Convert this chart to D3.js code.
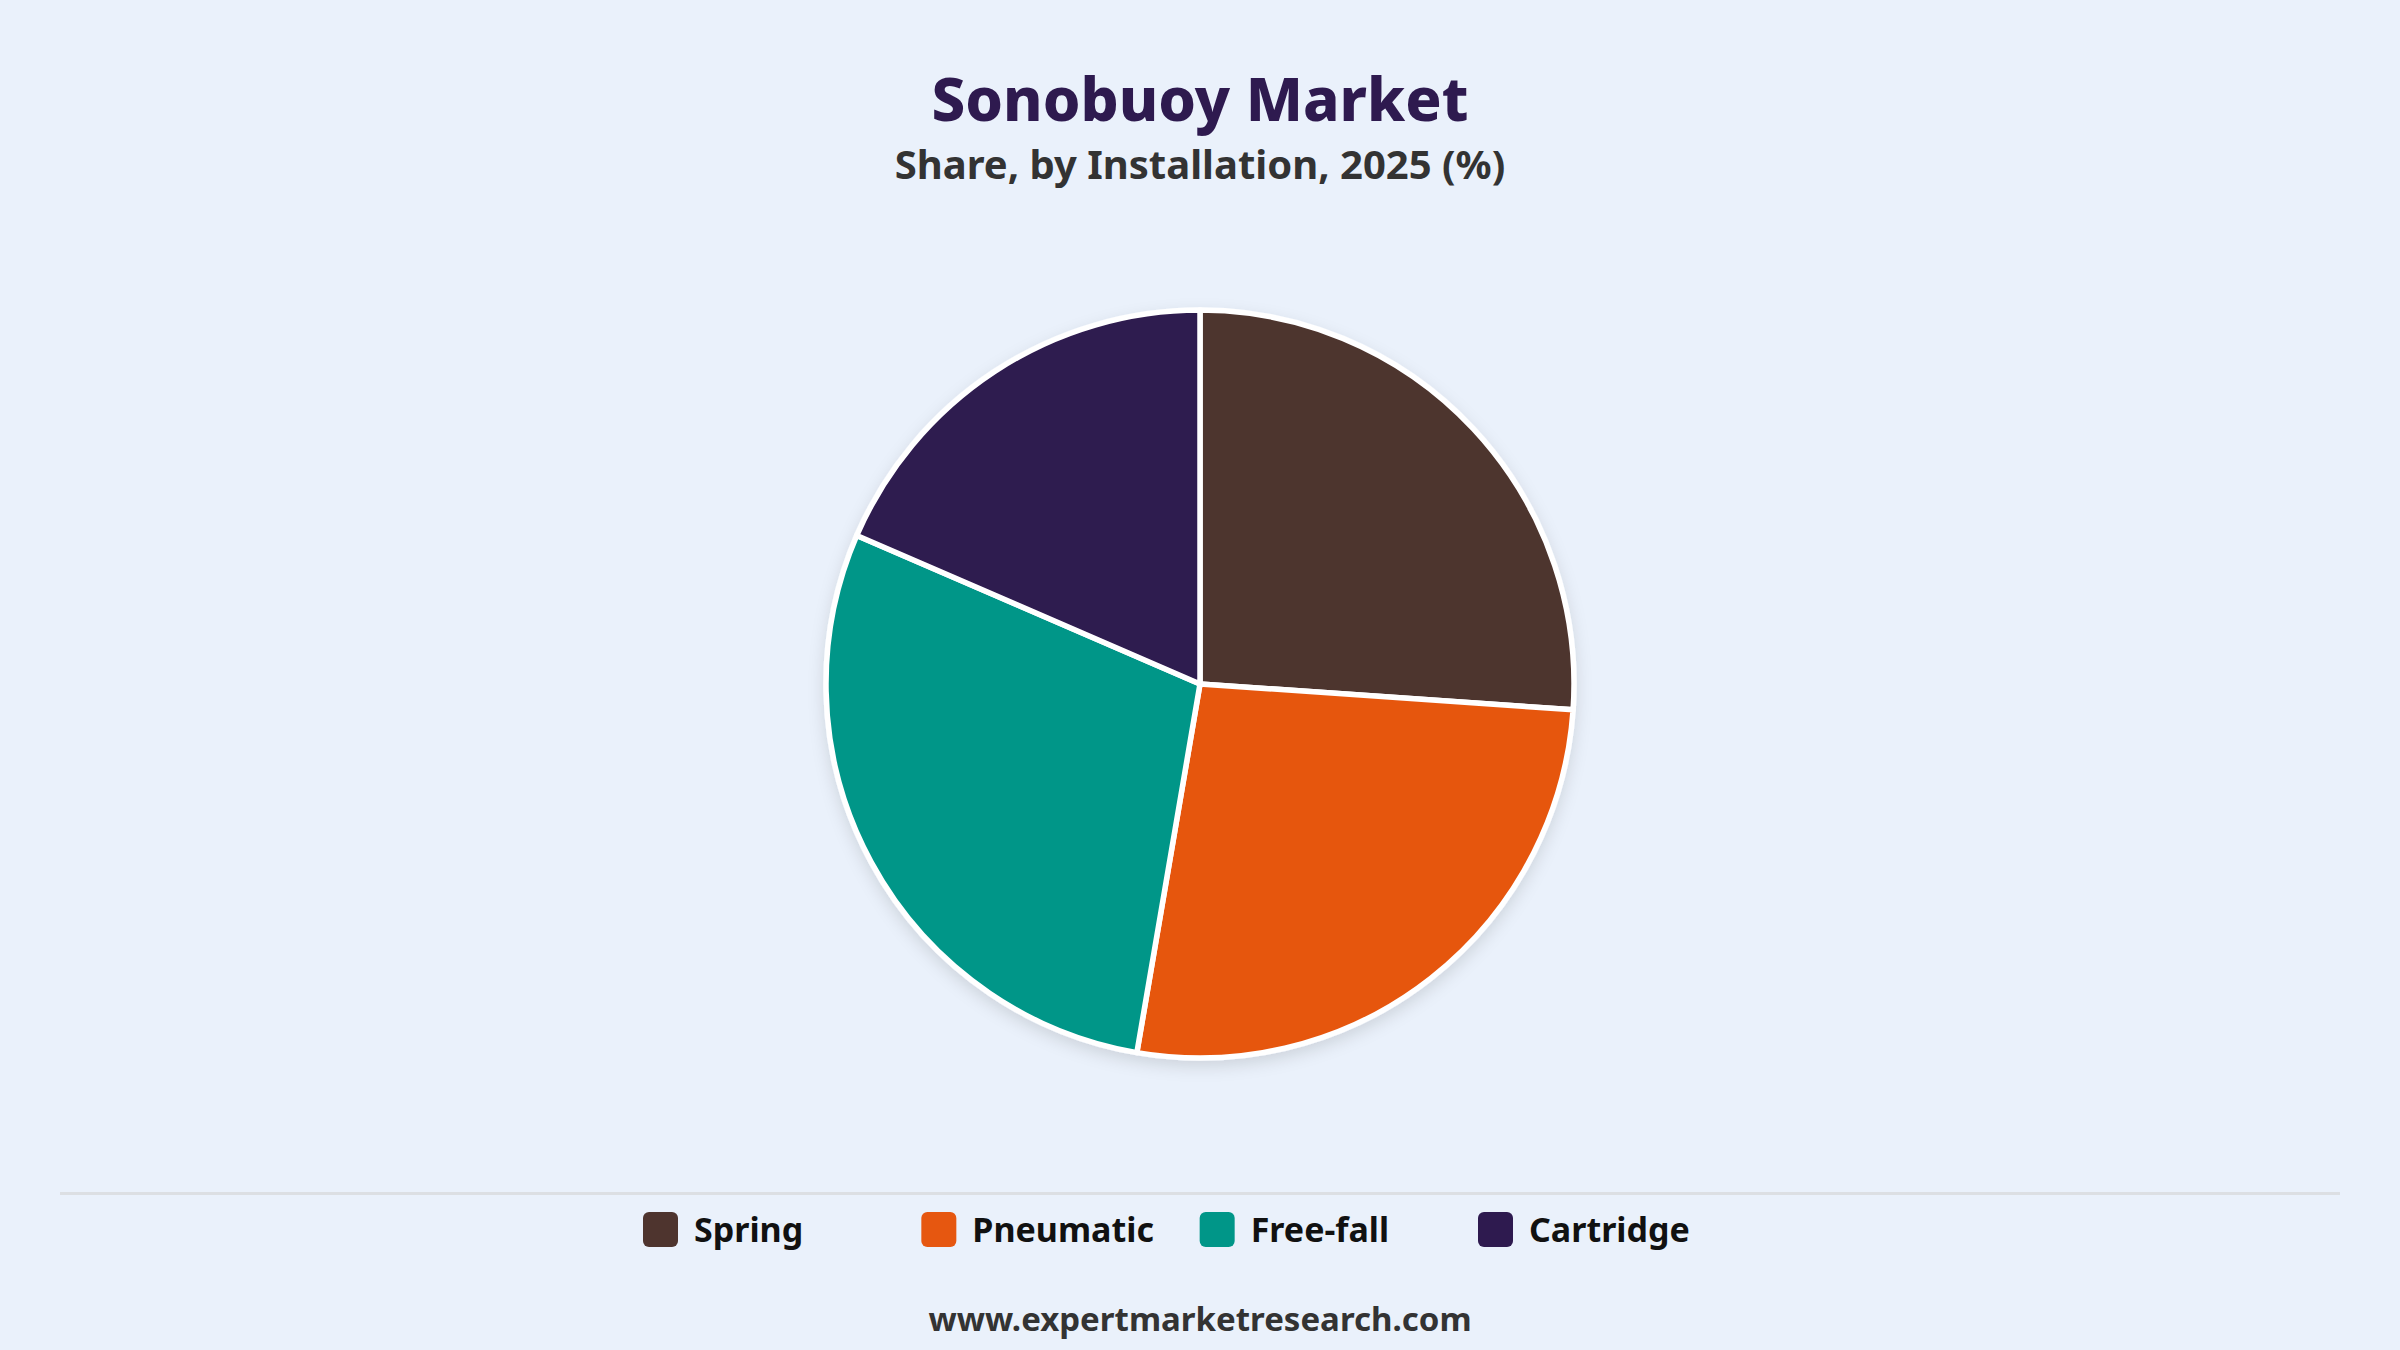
<!DOCTYPE html>
<html>
<head>
<meta charset="utf-8">
<script src="https://cdn.jsdelivr.net/npm/d3@7"></script>
<style>
  html, body { margin: 0; padding: 0; background: #eaf1fb; }
  svg { display: block; font-family: "Segoe UI", "Noto Sans", sans-serif; }
</style>
</head>
<body>
<svg id="chart" width="2400" height="1350"></svg>
<script>
// share by installation type, 2025 (%)
const categories = ["Spring", "Pneumatic", "Free-fall", "Cartridge"];
const shares = [26.1, 26.6, 28.8, 18.5];
const colours = ["#4e342e", "#e65710", "#009688", "#2e1a4f"];

const width = 2400, height = 1350;
const svg = d3.select("#chart");

svg.append("rect").attr("width", width).attr("height", height).attr("fill", "#eaf1fb");

// titles
svg.append("text")
  .attr("x", width / 2).attr("y", 121)
  .attr("text-anchor", "middle")
  .attr("font-size", 60).attr("font-weight", 800)
  .attr("fill", "#2e1a4f")
  .text("Sonobuoy Market");

svg.append("text")
  .attr("x", width / 2).attr("y", 179)
  .attr("text-anchor", "middle")
  .attr("font-size", 40).attr("font-weight", 700)
  .attr("fill", "#333333")
  .text("Share, by Installation, 2025 (%)");

// soft shadow under the pie
let defs = svg.append("defs");
let shadow = defs.append("filter").attr("id", "pieShadow")
  .attr("x", "-20%").attr("y", "-20%").attr("width", "140%").attr("height", "140%");
shadow.append("feDropShadow")
  .attr("dx", 0).attr("dy", 6).attr("stdDeviation", 8)
  .attr("flood-color", "#000").attr("flood-opacity", 0.12);

const radius = 374;
const pie = d3.pie().sort(null).value(d => d.value);
const arc = d3.arc().innerRadius(0).outerRadius(radius);
const colour = d3.scaleOrdinal().domain(categories).range(colours);

const data = categories.map((c, i) => ({ name: c, value: shares[i] }));

let g = svg.append("g")
  .attr("transform", "translate(" + (width / 2) + ",684)")
  .attr("filter", "url(#pieShadow)");

g.selectAll("path")
  .data(pie(data)).enter()
  .append("path")
  .attr("d", arc)
  .attr("fill", d => colour(d.data.name))
  .attr("stroke", "#ffffff")
  .attr("stroke-width", 5.5)
  .attr("stroke-linejoin", "round");

// divider above the legend
svg.append("line")
  .attr("x1", 60).attr("x2", width - 60)
  .attr("y1", 1193.5).attr("y2", 1193.5)
  .attr("stroke", "#dcdfe3").attr("stroke-width", 3);

// legend
const legendX = d3.scalePoint().domain(categories).range([643, 1478]);

let items = svg.append("g").selectAll("g")
  .data(categories).enter()
  .append("g")
  .attr("transform", d => "translate(" + legendX(d) + ",1212)");

items.append("rect")
  .attr("width", 35).attr("height", 35)
  .attr("rx", 6).attr("ry", 6)
  .attr("fill", d => colour(d));

items.append("text")
  .attr("x", 51).attr("y", 30)
  .attr("font-size", 34).attr("font-weight", 700)
  .attr("fill", "#111111")
  .text(d => d);

// source
svg.append("text")
  .attr("x", width / 2).attr("y", 1331)
  .attr("text-anchor", "middle")
  .attr("font-size", 33).attr("font-weight", 700)
  .attr("fill", "#333333")
  .text("www.expertmarketresearch.com");
</script>
</body>
</html>
